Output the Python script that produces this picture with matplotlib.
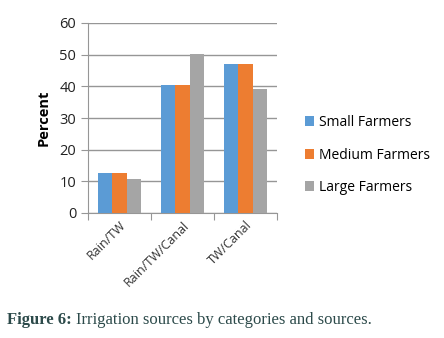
import numpy as np
import matplotlib.pyplot as plt

categories = ["Rain/TW", "Rain/TW/Canal", "TW/Canal"]
small = [12.5, 40.5, 47.0]
medium = [12.5, 40.5, 47.0]
large = [10.8, 50.3, 39.1]
series = ["Small Farmers", "Medium Farmers", "Large Farmers"]
colors = ["#5b9bd5", "#ed7d31", "#a5a5a5"]

plt.rcParams['font.family'] = ['Open Sans', 'DejaVu Sans']

fig = plt.figure(figsize=(4.44, 3.38), dpi=100)
ax = fig.add_axes([88 / 444, 1 - 213 / 338, 189 / 444, 190 / 338])

x = np.arange(len(categories))
w = 0.225
for i, (vals, name, c) in enumerate(zip([small, medium, large], series, colors)):
    ax.bar(x + (i - 1) * w, vals, w, color=c, label=name, zorder=3)

ax.set_xlim(-0.5, 2.5)
ax.set_ylim(0, 60)
ax.set_yticks(range(0, 61, 10))
ax.yaxis.grid(True, color="#969696", linewidth=1, zorder=0)
for s in ["top", "right"]:
    ax.spines[s].set_visible(False)
for s in ["left", "bottom"]:
    ax.spines[s].set_color("#969696")
ax.tick_params(axis="y", length=5, color="#969696", labelsize=10.5, labelcolor="#222222")
ax.set_xticks([-0.5, 0.5, 1.5, 2.5], minor=False)
ax.set_xticklabels([])
ax.tick_params(axis="x", which="major", length=5, color="#969696")
ax.set_xticks(x, minor=True)
ax.set_xticklabels(categories, minor=True, rotation=45, ha="right",
                   rotation_mode="anchor", fontsize=9, color="#333333")
ax.tick_params(axis="x", which="minor", length=0, pad=4)

ax.set_ylabel("Percent", fontsize=10.5, fontweight="bold", labelpad=6)

ax.legend(loc="center left", bbox_to_anchor=(1.08, 0.305), frameon=False,
          fontsize=10, handlelength=0.7, handleheight=0.7, handletextpad=0.3,
          labelspacing=1.25)

cap_y = 1 - 320 / 338
t1 = fig.text(7 / 444, cap_y, "Figure 6:", fontsize=12, fontweight="bold",
              family="Liberation Serif", color="#2c4a4a", va="center")
fig.canvas.draw()
bb = t1.get_window_extent()
fig.text((bb.x1 + 4) / 444, cap_y, "Irrigation sources by categories and sources.",
         fontsize=12, family="Liberation Serif", color="#2c4a4a", va="center")

fig.savefig("out.png", dpi=100)
